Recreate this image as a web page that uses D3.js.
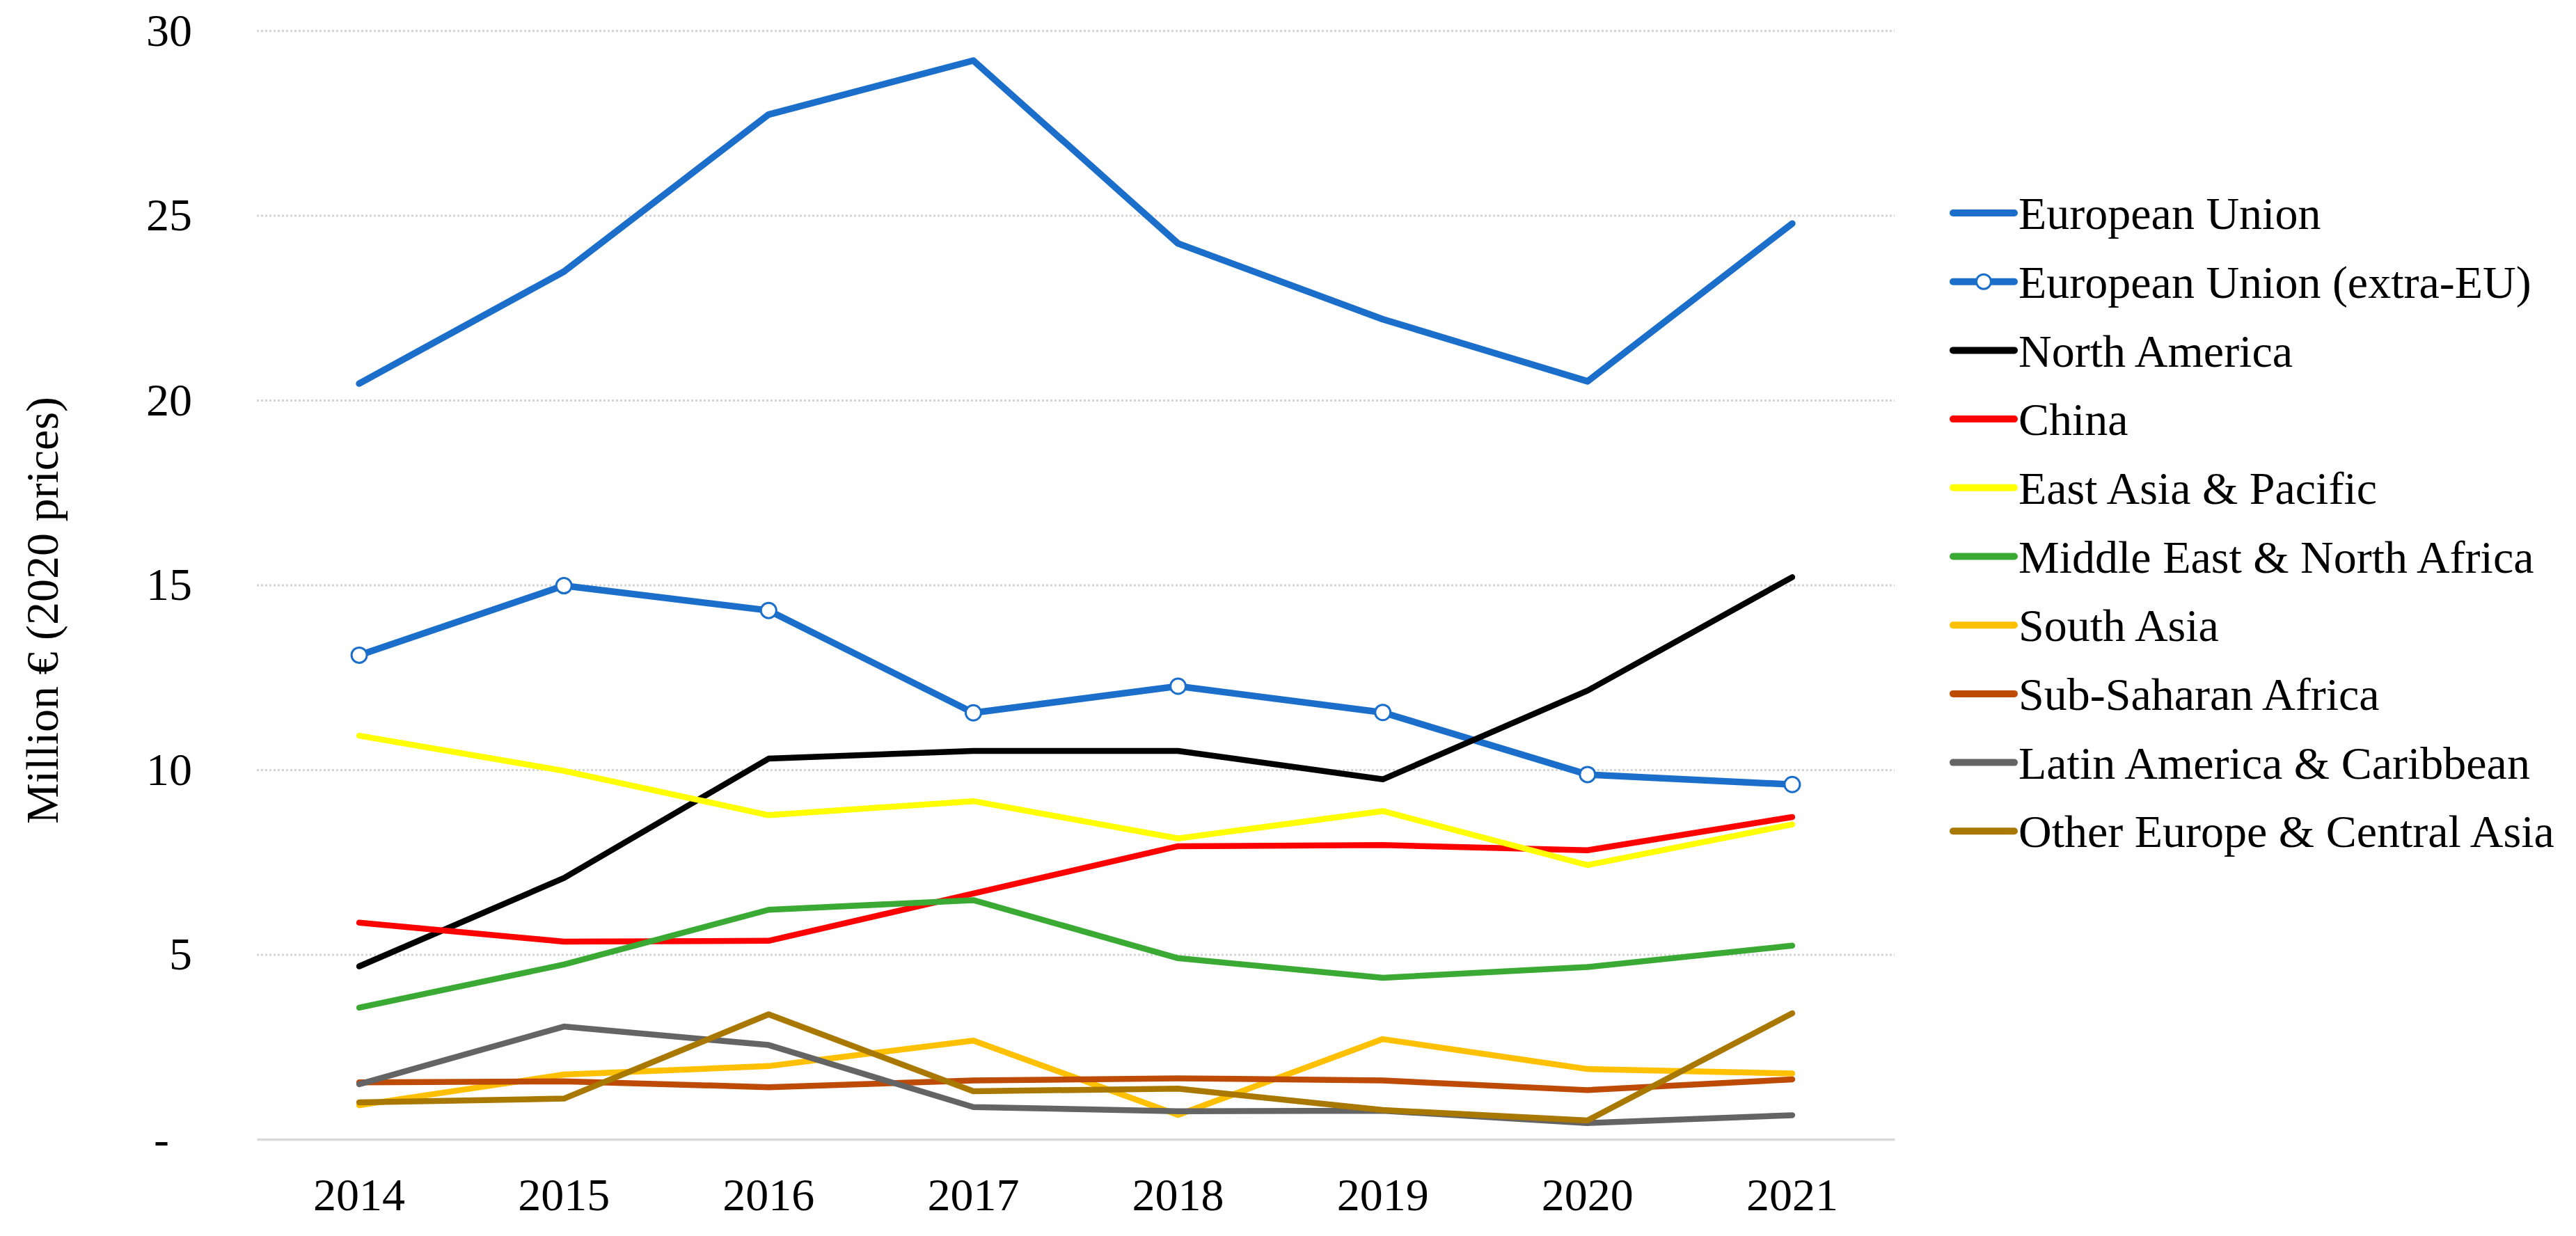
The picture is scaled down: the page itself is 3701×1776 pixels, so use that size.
<!DOCTYPE html>
<html>
<head>
<meta charset="utf-8">
<script src="https://cdn.jsdelivr.net/npm/d3@7"></script>
<style>
  body { margin: 0; background: #fff; }
  text { font-family: "Liberation Serif", "Times New Roman", serif; }
</style>
</head>
<body>
<div class="chartHolder"></div>
<script>
// data (million euro, 2020 prices)
let years = [2014, 2015, 2016, 2017, 2018, 2019, 2020, 2021];
let yTicks = [0, 5, 10, 15, 20, 25, 30];

let seriesNames = [
  "European Union",
  "European Union (extra-EU)",
  "North America",
  "China",
  "East Asia & Pacific",
  "Middle East & North Africa",
  "South Asia",
  "Sub-Saharan Africa",
  "Latin America & Caribbean",
  "Other Europe & Central Asia"
];
let euTotal = [20.45, 23.48, 27.73, 29.19, 24.24, 22.19, 20.51, 24.78];
let euExtra = [13.1, 14.98, 14.31, 11.54, 12.26, 11.55, 9.87, 9.6];
let northAmerica = [4.68, 7.07, 10.3, 10.51, 10.51, 9.74, 12.14, 15.21];
let china = [5.86, 5.35, 5.37, 6.65, 7.93, 7.96, 7.82, 8.72];
let eastAsia = [10.92, 9.97, 8.77, 9.15, 8.14, 8.88, 7.42, 8.52];
let mena = [3.56, 4.73, 6.21, 6.47, 4.9, 4.37, 4.66, 5.24];
let southAsia = [0.92, 1.75, 1.98, 2.67, 0.66, 2.71, 1.9, 1.78];
let subSahara = [1.54, 1.57, 1.41, 1.59, 1.65, 1.59, 1.33, 1.62];
let latAm = [1.49, 3.05, 2.55, 0.87, 0.76, 0.77, 0.44, 0.65];
let otherEurope = [1.0, 1.1, 3.38, 1.3, 1.37, 0.79, 0.51, 3.41];

let allValues = [euTotal, euExtra, northAmerica, china, eastAsia, mena,
  southAsia, subSahara, latAm, otherEurope];

let colors = ["#1B6FCB", "#1B6FCB", "#000000", "#FF0000", "#FFFF00",
  "#3BAA34", "#FFC000", "#BD4B05", "#646464", "#A97800"];

let width = 3701,
  height = 1776,
  plotLeft = 369,
  plotRight = 2722,
  plotTop = 44,
  plotBottom = 1637,
  lineWidth = 8.5;

//Create svg chart
let svgChart = d3
  .select(".chartHolder")
  .append("svg")
  .attr("width", width)
  .attr("height", height)
  .style("background", "#fff");

// scales
let xScale = d3.scaleBand().domain(years).range([plotLeft, plotRight]).padding(0);
let xMid = (d) => xScale(d) + xScale.bandwidth() / 2;
let yScale = d3.scaleLinear().domain([0, 30]).range([plotBottom, plotTop]);

// dotted gridlines
let grid = svgChart
  .append("g")
  .attr("transform", "translate(" + plotLeft + ",0)")
  .call(
    d3.axisLeft(yScale)
      .tickValues(yTicks.filter((t) => t > 0))
      .tickSize(-(plotRight - plotLeft))
      .tickFormat("")
  );
grid.select(".domain").remove();
grid
  .selectAll(".tick line")
  .attr("stroke", "#D4D4D4")
  .attr("stroke-width", 3)
  .attr("stroke-dasharray", "3,3");

// y axis labels
let yAxisGroup = svgChart
  .append("g")
  .attr("transform", "translate(" + plotLeft + ",0)")
  .call(
    d3.axisLeft(yScale)
      .tickValues(yTicks)
      .tickSize(0)
      .tickPadding(93)
      .tickFormat((d) => (d === 0 ? "-" : d))
  );
yAxisGroup.select(".domain").remove();
yAxisGroup
  .selectAll("text")
  .style("font-size", "66px")
  .attr("fill", "#000")
  .attr("dx", (d) => (d === 0 ? -33 : 0));

// x axis
let xAxisGroup = svgChart
  .append("g")
  .attr("transform", "translate(0," + plotBottom + ")")
  .call(d3.axisBottom(xScale).tickSize(0).tickPadding(55));
xAxisGroup
  .select(".domain")
  .attr("stroke", "#D9D9D9")
  .attr("stroke-width", 3.5);
xAxisGroup.selectAll("text").style("font-size", "66px").attr("fill", "#000");

// y title
svgChart
  .append("text")
  .attr("transform", "translate(83,877) rotate(-90)")
  .attr("text-anchor", "middle")
  .style("font-size", "66px")
  .text("Million € (2020 prices)");

// lines
let line = d3
  .line()
  .x((d, i) => xMid(years[i]))
  .y((d) => yScale(d));

allValues.forEach((vals, k) => {
  svgChart
    .append("path")
    .datum(vals)
    .attr("d", line)
    .attr("fill", "none")
    .attr("stroke", colors[k])
    .attr("stroke-width", k < 2 ? 9.5 : lineWidth)
    .attr("stroke-linejoin", "round")
    .attr("stroke-linecap", "round");

  // extra-EU has hollow markers
  if (k === 1) {
    svgChart
      .append("g")
      .selectAll("circle")
      .data(vals)
      .enter()
      .append("circle")
      .attr("cx", (d, i) => xMid(years[i]))
      .attr("cy", (d) => yScale(d))
      .attr("r", 11)
      .attr("fill", "#fff")
      .attr("stroke", colors[k])
      .attr("stroke-width", 3);
  }
});

// legend
let legend = svgChart
  .append("g")
  .selectAll("g")
  .data(seriesNames)
  .enter()
  .append("g")
  .attr("transform", (d, i) => "translate(2806," + (306 + i * 98.7) + ")");

legend
  .append("line")
  .attr("x1", 0)
  .attr("x2", 88)
  .attr("stroke", (d, i) => colors[i])
  .attr("stroke-width", 10)
  .attr("stroke-linecap", "round");

legend
  .filter((d, i) => i === 1)
  .append("circle")
  .attr("cx", 44)
  .attr("r", 10.5)
  .attr("fill", "#fff")
  .attr("stroke", colors[1])
  .attr("stroke-width", 3);

legend
  .append("text")
  .attr("x", 94)
  .attr("dy", "0.35em")
  .style("font-size", "66px")
  .attr("fill", "#000")
  .text((d) => d);
</script>
</body>
</html>
